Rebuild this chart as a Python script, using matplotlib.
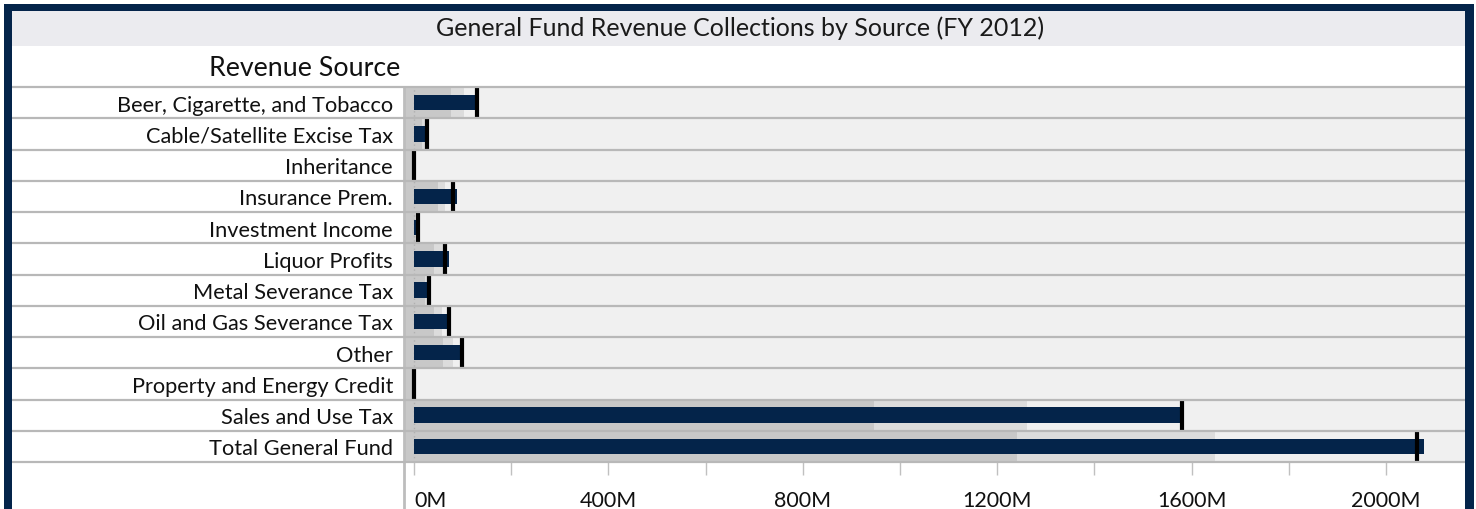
import matplotlib.pyplot as plt
from matplotlib.patches import Rectangle
import numpy as np

plt.rcParams['font.family'] = ['Lato', 'DejaVu Sans']

# revenue sources, values in millions
sources = ['Beer, Cigarette, and Tobacco', 'Cable/Satellite Excise Tax', 'Inheritance',
           'Insurance Prem.', 'Investment Income', 'Liquor Profits', 'Metal Severance Tax',
           'Oil and Gas Severance Tax', 'Other', 'Property and Energy Credit',
           'Sales and Use Tax', 'Total General Fund']
actual = [125, 25, 4, 88, 4, 71, 27, 69, 95, 0.5, 1585, 2079]
target = [129, 27, 1, 80, 8, 64, 31, 72, 98, -1, 1580, 2063]
band_low = [76, 16, 0, 50, 2, 41, 23, 41, 59, 0, 947, 1241]
band_mid = [103, 25, 0, 64, 4, 59, 27, 57, 80, 0, 1262, 1649]
tick_vals = [0, 400, 800, 1200, 1600, 2000]
tick_text = ['0M', '400M', '800M', '1200M', '1600M', '2000M']

W, H = 1476, 510
fig = plt.figure(figsize=(W / 100, H / 100), dpi=100)
navy = '#04244a'

# title band and frame
fig.add_artist(Rectangle((12 / W, 1 - 47 / H), (1465 - 12) / W, 35 / H, transform=fig.transFigure,
                         color='#ebebef', lw=0))
fig.add_artist(Rectangle((4 / W, 0), 8 / W, 1 - 5 / H, transform=fig.transFigure, color=navy, lw=0))
fig.add_artist(Rectangle((1465 / W, 0), 9 / W, 1 - 5 / H, transform=fig.transFigure, color=navy, lw=0))
fig.add_artist(Rectangle((4 / W, 1 - 12 / H), 1470 / W, 7 / H, transform=fig.transFigure, color=navy, lw=0))
fig.text(740 / W, 1 - 28 / H, 'General Fund Revenue Collections by Source (FY 2012)',
         ha='center', va='center', fontsize=18, color='#1a1a1a')
fig.text(400 / W, 1 - 68 / H, 'Revenue Source', ha='right', va='center', fontsize=19.3, color='#111111')

left, right, top, bottom = 404, 1465, 88, 463
ax = fig.add_axes([left / W, 1 - bottom / H, (right - left) / W, (bottom - top) / H])
px = 194.4 / 400
xmin = -(414 - left) / px
xmax = (right - 414) / px
ax.set_xlim(xmin, xmax)
ax.set_ylim(len(sources), 0)
ax.set_facecolor('#f0f0f0')

y = np.arange(len(sources)) + 0.5
ax.barh(y, np.array(band_mid) - xmin, left=xmin, height=1.0, color='#dcdcdc', lw=0)
ax.barh(y, np.array(band_low) - xmin, left=xmin, height=1.0, color='#c8c8c8', lw=0)
ax.axvline(0, color='#b0b0b0', ls=(0, (1, 2)), lw=1)
ax.barh(y, actual, height=0.5, color=navy, lw=0, zorder=3)
ax.vlines(target, y - 0.5, y + 0.5, color='black', lw=3, zorder=4)

# row separators running across the label column too
ext = (left - 12) / (right - left)
for i in range(len(sources) + 1):
    ax.axhline(i, xmin=-ext, xmax=1, color='#b8b8b8', lw=1.6, clip_on=False, zorder=5)
ax.axvline(xmin, ymin=-(510 - bottom) / (bottom - top), ymax=1, color='#bdbdbd', lw=2, clip_on=False)

for s in ax.spines.values():
    s.set_visible(False)

ax.set_yticks(y)
ax.set_yticklabels(sources, fontsize=15.7, color='#111111')
ax.tick_params(axis='y', length=0, pad=8)

ax.set_xticks(np.arange(0, 2200, 200), minor=True)
ax.set_xticks(tick_vals)
ax.set_xticklabels(tick_text, fontsize=15.5, color='#111111')
ax.get_xticklabels()[0].set_ha('left')
ax.tick_params(axis='x', which='both', length=9, color='#c0c0c0', width=1, pad=11)

fig.savefig('out.png', dpi=100, facecolor='white')
